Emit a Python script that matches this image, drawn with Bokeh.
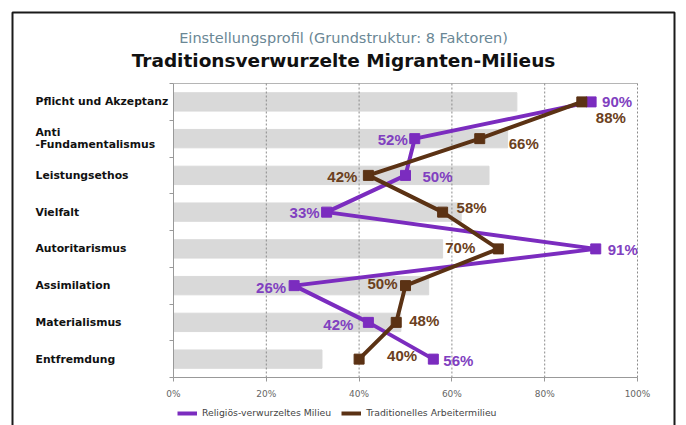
from bokeh.plotting import figure
from bokeh.models import (ColumnDataSource, Range1d, FixedTicker, PrintfTickFormatter,
                          LabelSet, Label, BoxAnnotation, Legend, LegendItem, LinearAxis)
from bokeh.core.properties import value
from bokeh.embed import file_html
from bokeh.resources import INLINE

# ---------------- data ----------------
categories = ["Pflicht und Akzeptanz", "Anti\n-Fundamentalismus", "Leistungsethos", "Vielfalt",
              "Autoritarismus", "Assimilation", "Materialismus", "Entfremdung"]
reference_bars = [74, 72, 68, 62, 58, 55, 49, 32]
religioes = [90, 52, 50, 33, 91, 26, 42, 56]
arbeiter = [88, 66, 42, 58, 70, 50, 48, 40]
x_ticks = [0, 20, 40, 60, 80, 100]
series_names = ["Religiös-verwurzeltes Milieu", "Traditionelles Arbeitermilieu"]
title_text = "Traditionsverwurzelte Migranten-Milieus"
subtitle_text = "Einstellungsprofil (Grundstruktur: 8 Faktoren)"

# ---------------- label placement (style) ----------------
rel_align = ["left", "right", "left", "right", "left", "right", "right", "left"]
rel_dx = [11, -7, 17, -7, 12, -8, -15, 10]
rel_dy = [0, -1, -1, 0, -1, -2, -2, -1]
arb_align = ["left", "left", "right", "left", "right", "right", "left", "left"]
arb_dx = [14, 29, -11, 14, -23, -8, 13, 28]
arb_dy = [-16, -5, -1, 5, 1, 2, 2, 4]

PURPLE = "#7b2cbf"
BROWN = "#5b3214"
PURPLE_TXT = "#8040c0"
BROWN_TXT = "#6b4020"
FONT = "DejaVu Sans"

W, H = 686, 425
# frame = whole canvas; data ranges chosen so that 0..100 % spans px 173..637
# and the 8 rows span px 83..377
PX_X = (637 - 173) / 100.0
PX_Y = (377 - 83) / 8.0
n = len(categories)
x_range = Range1d(-173 / PX_X, 100 + (W - 637) / PX_X)
y_range = Range1d(n + (H - 377) / PX_Y, -83 / PX_Y)

rows = [i + 0.5 for i in range(n)]

src_cat = ColumnDataSource(dict(y=rows, name=categories, bar=reference_bars,
                                zero=[0] * n))
src_rel = ColumnDataSource(dict(y=rows, v=religioes, txt=[f"{v}%" for v in religioes],
                                align=rel_align, dx=rel_dx, dy=rel_dy))
src_arb = ColumnDataSource(dict(y=rows, v=arbeiter, txt=[f"{v}%" for v in arbeiter],
                                align=arb_align, dx=arb_dx, dy=arb_dy))

p = figure(width=W, height=H, x_range=x_range, y_range=y_range,
           output_backend="svg", toolbar_location=None,
           x_axis_type=None, y_axis_type=None, min_border=0)
p.outline_line_color = None
p.background_fill_color = "white"
p.border_fill_color = "white"
p.xgrid.visible = False
p.ygrid.visible = False

# outer black frame
p.add_layout(BoxAnnotation(left=12, right=674, top=H - 12, bottom=-30,
                           left_units="screen", right_units="screen",
                           top_units="screen", bottom_units="screen",
                           fill_alpha=0, line_color="#1a1a1a", line_alpha=1.0, line_width=2))

# grey reference bars
p.hbar(y="y", right="bar", left="zero", height=0.5, source=src_cat, color="#d9d9d9")

# plot-area top edge and dashed vertical grid lines
p.segment(x0=[x_ticks[0]], x1=[x_ticks[-1]], y0=[0], y1=[0], line_color="#b5b5b5", line_width=1)
p.segment(x0=x_ticks[1:], x1=x_ticks[1:], y0=[0] * (len(x_ticks) - 1), y1=[n] * (len(x_ticks) - 1),
          line_color="#8a8a8a", line_width=1, line_dash="2 2")

# series
r1 = p.line(x="v", y="y", source=src_rel, line_width=4, color=PURPLE)
p.scatter(x="v", y="y", source=src_rel, marker="square", size=10, color=PURPLE)
r2 = p.line(x="v", y="y", source=src_arb, line_width=4, color=BROWN)
p.scatter(x="v", y="y", source=src_arb, marker="square", size=10, color=BROWN)

# value labels
for src, col in ((src_rel, PURPLE_TXT), (src_arb, BROWN_TXT)):
    p.add_layout(LabelSet(x="v", y="y", text="txt", source=src, x_offset="dx", y_offset="dy",
                          text_align="align", text_baseline="middle",
                          text_font=value("Liberation Sans"), text_font_style="bold",
                          text_font_size="15px", text_color=col))

# category labels
p.add_layout(LabelSet(x=35, x_units="screen", y="y", text="name", source=src_cat,
                      text_align="left", text_baseline="middle", text_font=value(FONT),
                      text_font_style="bold", text_font_size="10.8px", text_color="#111111",
                      text_line_height=0.95))

# titles
p.add_layout(Label(x=343, y=H - 37, x_units="screen", y_units="screen", text=subtitle_text,
                   text_align="center", text_baseline="middle", text_font=FONT,
                   text_font_size="14.5px", text_color="#6a8795"))
p.add_layout(Label(x=343, y=H - 60, x_units="screen", y_units="screen", text=title_text,
                   text_align="center", text_baseline="middle", text_font=FONT,
                   text_font_style="bold", text_font_size="18.5px", text_color="#111111"))

# axes (drawn at fixed data locations inside the canvas)
xa = LinearAxis(fixed_location=n, bounds=(x_ticks[0], x_ticks[-1]))
xa.ticker = FixedTicker(ticks=x_ticks)
xa.formatter = PrintfTickFormatter(format="%d%%")
xa.axis_line_color = "#999999"
xa.major_tick_line_color = "#999999"
xa.major_tick_out = 4
xa.major_tick_in = 0
xa.minor_tick_line_color = None
xa.major_label_text_font = FONT
xa.major_label_text_font_size = "9px"
xa.major_label_text_color = "#666666"
xa.major_label_standoff = 7
p.add_layout(xa, "below")

ya = LinearAxis(fixed_location=0, bounds=(0, n))
ya.ticker = FixedTicker(ticks=[], minor_ticks=list(range(n + 1)))
ya.axis_line_color = "#999999"
ya.minor_tick_line_color = "#999999"
ya.minor_tick_out = 4
ya.minor_tick_in = 0
ya.major_tick_line_color = None
p.add_layout(ya, "left")

legend = Legend(items=[LegendItem(label=series_names[0], renderers=[r1]),
                       LegendItem(label=series_names[1], renderers=[r2])],
                orientation="horizontal", location=(177, 7),
                border_line_color=None, background_fill_alpha=0,
                label_text_font=FONT, label_text_font_size="9.3px", label_text_color="#444444",
                glyph_width=20, glyph_height=10, label_height=10, label_standoff=5,
                spacing=10, padding=0, margin=0)
p.add_layout(legend)

open("out.html", "w").write(file_html(p, INLINE))
